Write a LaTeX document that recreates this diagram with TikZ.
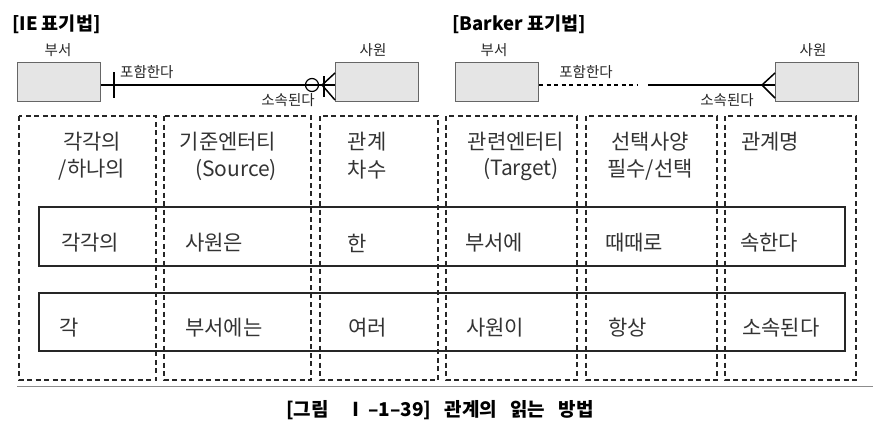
\documentclass[tikz,border=0pt]{standalone}
\usepackage{fontspec}
\setmainfont{Noto Sans CJK KR}
\begin{document}
\begin{tikzpicture}[x=1pt,y=-1pt,
  ent/.style={draw=black!60, fill=black!10, line width=1.2pt, minimum width=83pt, minimum height=39pt, anchor=north west, inner sep=0pt},
  colbox/.style={draw=black!85, dash pattern=on 5pt off 3.5pt, line width=1.8pt},
  rowbox/.style={draw=black!85, line width=2pt},
  txt/.style={font=\fontsize{21}{24}\selectfont, text=black!80, inner sep=0pt},
  lbl/.style={font=\fontsize{14.5}{16}\selectfont, text=black!85, inner sep=0pt},
  ttl/.style={font=\bfseries\fontsize{18.5}{21}\selectfont, inner sep=0pt, anchor=west},
  rel/.style={line width=1.5pt, black}]
\useasboundingbox (0,0) rectangle (873,440);

% titles
\node[ttl] (t1) at (12,24) {[IE 표기법]};
\node[ttl] (t2) at (452,24) {[Barker 표기법]};

% IE notation
\node[ent] (b1) at (17,62) {};
\node[ent] (s1) at (335,62) {};
\node[lbl] (b1l) at (58,50) {부서};
\node[lbl] (s1l) at (373,50) {사원};
\draw[rel] (b1.east |- 0,85) -- (s1.west |- 0,85);
\draw[rel] (114,72) -- (114,98);
\node[circle, draw, line width=1.2pt, minimum size=13pt, inner sep=0pt] (c1) at (312,85) {};
\draw[rel] (s1.west |- 0,73) -- (322,85) -- (s1.west |- 0,100);
\draw[rel] (324,76) -- (324,97);
\node[lbl, anchor=west] (r1) at (120,72) {포함한다};
\node[lbl] (r2) at (288,100) {소속된다};

% Barker notation
\node[ent] (b2) at (455,62) {};
\node[ent] (s2) at (775,62) {};
\node[lbl] (b2l) at (494,50) {부서};
\node[lbl] (s2l) at (813,50) {사원};
\coordinate (mid) at (643,85);
\draw[rel, dash pattern=on 4pt off 3.5pt] (b2.east |- 0,85) -- ([xshift=-5pt]mid);
\draw[rel] ([xshift=5pt]mid) -- (s2.west |- 0,85);
\draw[rel] (s2.west |- 0,73) -- (762,85) -- (s2.west |- 0,98);
\node[lbl] (r3) at (586,72) {포함한다};
\node[lbl] (r4) at (727,100) {소속된다};

% table columns
\foreach \a/\b in {19/156,164/311,320/438,446/577,586/717,725/856}
  \draw[colbox] (\a,116) rectangle (\b,380);
\draw[black!45, line width=0.8pt] (17,386) -- (873,386);

% rows
\draw[rowbox] (39,207) rectangle (845,266);
\draw[rowbox] (39,293) rectangle (845,351);

% header
\node[txt] (h1a) at (92,142) {각각의};
\node[txt] (h1b) at (92,170) {/하나의};
\node[txt] (h2a) at (228,142) {기준엔터티};
\node[txt] (h2b) at (236,170) {(Source)};
\node[txt] (h3a) at (367,142) {관계};
\node[txt] (h3b) at (367,170) {차수};
\node[txt] (h4a) at (516,142) {관련엔터티};
\node[txt] (h4b) at (521,170) {(Target)};
\node[txt] (h5a) at (650,142) {선택사양};
\node[txt] (h5b) at (650,170) {필수/선택};
\node[txt] (h6a) at (770,142) {관계명};

% row 1
\node[txt] (a1) at (90,243) {각각의};
\node[txt, anchor=west] (a2) at (185,243) {사원은};
\node[txt, anchor=west] (a3) at (347,243) {한};
\node[txt, anchor=west] (a4) at (465,243) {부서에};
\node[txt, anchor=west] (a5) at (605,243) {때때로};
\node[txt, anchor=west] (a6) at (740,243) {속한다};

% row 2
\node[txt, anchor=west] (d1) at (59,328) {각};
\node[txt, anchor=west] (d2) at (185,328) {부서에는};
\node[txt, anchor=west] (d3) at (348,328) {여러};
\node[txt, anchor=west] (d4) at (466,328) {사원이};
\node[txt, anchor=west] (d5) at (608,328) {항상};
\node[txt, anchor=west] (d6) at (742,328) {소속된다};

% caption
\node[font=\bfseries\fontsize{19}{22}\selectfont, inner sep=0pt] (cap) at (440,410)
  {[그림\hspace{0.9em}Ⅰ\,–1–39]\hspace{0.7em}관계의\hspace{0.7em}읽는\hspace{0.7em}방법};
\end{tikzpicture}
\end{document}
